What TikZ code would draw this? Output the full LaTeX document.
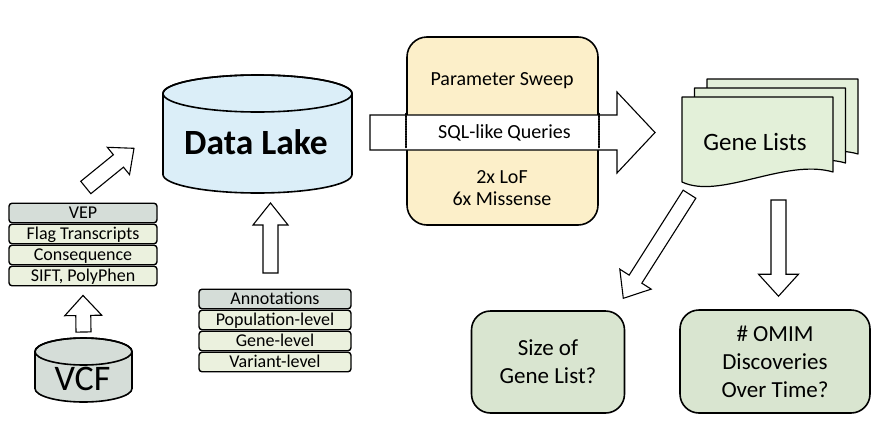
\documentclass[tikz,border=0pt]{standalone}
\usepackage{fontspec}
\setmainfont{Carlito}
\usepackage{xcolor}
\usepackage{tikz}
\usetikzlibrary{calc}
\definecolor{hdrgray}{HTML}{D5DDD8}
\definecolor{rowgreen}{HTML}{EBF1DE}
\definecolor{lakeblue}{HTML}{DBEEF8}
\definecolor{sweepyellow}{HTML}{FCEFC9}
\definecolor{listgreen}{HTML}{E3F0D9}
\definecolor{resgreen}{HTML}{D9E5D0}
\newcommand{\fatarrow}[5]{%
  \draw[fat arrow] let \p1=($(#2)-(#1)$), \n1={atan2(\y1,\x1)}, \n2={veclen(\x1,\y1)-#5} in
    ($(#1)+(\n1+90:#3)$) -- ($(#1)+(\n1:\n2)+(\n1+90:#3)$) -- ($(#1)+(\n1:\n2)+(\n1+90:#4)$) -- (#2)
    -- ($(#1)+(\n1:\n2)+(\n1-90:#4)$) -- ($(#1)+(\n1:\n2)+(\n1-90:#3)$) -- ($(#1)+(\n1-90:#3)$) -- cycle;}

\begin{document}
\begin{tikzpicture}[line cap=round,line join=round,x=1pt,y=1pt,
  fat arrow/.style={line width=1.1pt,line join=miter,fill=white},
  cyl/.style={line width=1.6pt},
  stackrow/.style={draw,line width=1.4pt,rounded corners=3pt,inner sep=0pt,fill=rowgreen,
    minimum height=19.5pt,text height=11.5pt,text depth=0pt,font=\fontsize{18}{20}\selectfont},
  stackhead/.style={stackrow,fill=hdrgray},
  docpage/.style={line width=1.2pt,fill=listgreen},
  resbox/.style={draw,line width=1.6pt,rounded corners=19pt,fill=resgreen,align=center,
    font=\fontsize{23}{28}\selectfont},
  sweeptext/.style={font=\fontsize{20}{22.5}\selectfont,align=center}]
\useasboundingbox (0,0) rectangle (886,-442);
\fill[white] (0,0) rectangle (886,-442);

\draw[cyl,fill=hdrgray] (35,-351.5) -- (35,-388.5) arc[start angle=180,end angle=360,x radius=48.5,y radius=13.5]
  -- (132,-351.5) arc[start angle=0,end angle=180,x radius=48.5,y radius=13.5] -- cycle;
\draw[cyl] (83.5,-351.5) ellipse[x radius=48.5,y radius=13.5];
\node[anchor=base,font=\fontsize{36}{38}\selectfont] (vcf) at (82.5,-390) {VCF};

\node[stackhead,minimum width=148pt] (vep) at (83,-213) {VEP};
\node[stackrow,minimum width=148pt] (flag) at (83,-234) {Flag Transcripts};
\node[stackrow,minimum width=148pt] (conseq) at (83,-255) {Consequence};
\node[stackrow,minimum width=148pt] (sift) at (83,-276) {SIFT, PolyPhen};

\draw[cyl,fill=lakeblue] (163,-93.5) -- (163,-174.5) arc[start angle=180,end angle=360,x radius=94.5,y radius=18.5]
  -- (352,-93.5) arc[start angle=0,end angle=180,x radius=94.5,y radius=18.5] -- cycle;
\draw[cyl] (257.5,-93.5) ellipse[x radius=94.5,y radius=18.5];
\node[anchor=base,font=\fontsize{35.5}{38}\selectfont\bfseries] (lake) at (256,-154) {Data Lake};

\node[stackhead,minimum width=152pt] (annot) at (275,-299) {Annotations};
\node[stackrow,minimum width=152pt] (poplvl) at (275,-320) {Population-level};
\node[stackrow,minimum width=152pt] (genelvl) at (275,-341) {Gene-level};
\node[stackrow,minimum width=152pt] (varlvl) at (275,-362) {Variant-level};

\node[draw,line width=1.6pt,rounded corners=20pt,fill=sweepyellow,minimum width=191pt,minimum height=188pt] (sweep) at (502.5,-131) {};

\foreach \s in {2,1,0}
  \draw[docpage,shift={(12.5*\s,9*\s)}] (682,-97) -- (682,-182) .. controls (720,-200) and (785,-158) .. (833,-172) -- (833,-97) -- cycle;
\node[anchor=base,font=\fontsize{25}{28}\selectfont] (glist) at (755,-150) {Gene Lists};

\node[resbox,minimum width=153pt,minimum height=102pt] (size) at (548,-362) {Size of\\Gene List?};
\node[resbox,minimum width=190pt,minimum height=103pt] (omim) at (775,-361.5) {\# OMIM\\Discoveries\\Over Time?};

\coordinate (vcfout) at (83.5,-332);
\coordinate (vepin) at ($(sift.south)+(0,-9)$);
\coordinate (vepout) at (85.8,-187.5);
\coordinate (lakein) at (134,-148.3);
\coordinate (annotout) at (270.5,-273);
\coordinate (lakein2) at (270.5,-203);
\coordinate (sqltail) at (370,-132.5);
\coordinate (sqltip) at (655,-132.5);
\coordinate (listout) at (778.5,-200);
\coordinate (omimin) at ($(omim.north)+(3.5,13)$);
\coordinate (listout2) at (689.5,-194.2);
\coordinate (sizein) at (623.3,-298.3);

\fatarrow{vcfout}{vepin}{7.5}{18.5}{20}
\fatarrow{vepout}{lakein}{8}{17.6}{20}
\fatarrow{annotout}{lakein2}{7.5}{17.5}{22}
\fatarrow{sqltail}{sqltip}{17.5}{40.5}{38}
\fatarrow{listout}{omimin}{7.5}{20}{22}
\fatarrow{listout2}{sizein}{7.5}{18.6}{22.7}

\draw[line width=1.5pt,densely dotted] ($(sweep.west)+(0,17.5)$) -- ($(sweep.west)+(0,-17.5)$);
\draw[line width=1.5pt,densely dotted] ($(sweep.east)+(0,17.5)$) -- ($(sweep.east)+(0,-17.5)$);

\node[sweeptext,anchor=base] (sweeplbl) at (502,-85) {Parameter Sweep};
\node[sweeptext,anchor=base] (sqllbl) at (504.5,-138.3) {SQL-like Queries};
\node[sweeptext] (countlbl) at (502,-188) {2x LoF\\6x Missense};
\end{tikzpicture}
\end{document}
